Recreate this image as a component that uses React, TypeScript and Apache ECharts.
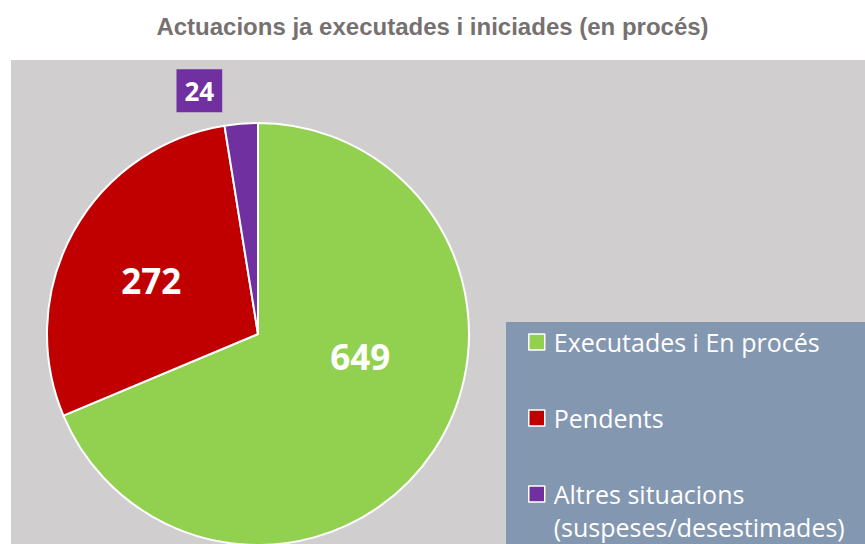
import React, { useEffect, useRef } from "react";
import * as echarts from "echarts";

const categories = ["Executades i En procés", "Pendents", "Altres situacions\n(suspeses/desestimades)"];
const values = [649, 272, 24];
const colors = ["#92d050", "#c00000", "#7030a0"];
const titleText = "Actuacions ja executades i iniciades (en procés)";

export default function App() {
  const ref = useRef<HTMLDivElement>(null);
  useEffect(() => {
    document.body.style.margin = "0";
    const chart = echarts.init(ref.current!, null, { renderer: "svg" });
    const labelFont = "'Open Sans', 'Noto Sans', sans-serif";
    const data = categories.map((name, i) => {
      const item: any = { name, value: values[i], itemStyle: { color: colors[i] } };
      if (i === 0) item.label = { offset: [12, -38] };
      if (i === 1) item.label = { offset: [-12, -1] };
      if (i === 2)
        item.label = {
          offset: [-50, -135],
          backgroundColor: "#7030a0",
          padding: [4, 8, 4, 8],
          fontSize: 26,
          lineHeight: 35,
        };
      return item;
    });
    const legendBase = (name: string, top: number, formatter?: any) => ({
      show: true,
      orient: "vertical",
      left: 528,
      top,
      padding: 0,
      itemWidth: 16,
      itemHeight: 16,
      icon: "rect",
      selectedMode: false,
      itemStyle: { borderColor: "#ffffff", borderWidth: 1.5 },
      data: [name],
      formatter,
      textStyle: {
        color: "#ffffff",
        fontSize: 25,
        lineHeight: 33,
        fontFamily: labelFont,
        padding: [0, 0, 0, 4],
      },
    });
    chart.setOption({
      animation: false,
      backgroundColor: "#ffffff",
      title: {
        text: titleText,
        left: "center",
        top: 9,
        textStyle: {
          color: "#767171",
          fontSize: 24,
          fontWeight: "bold",
          fontFamily: "'Liberation Sans', Arial, sans-serif",
        },
      },
      graphic: [
        { type: "rect", z: -10, silent: true, shape: { x: 11, y: 60, width: 860, height: 490 }, style: { fill: "#d0cece" } },
        { type: "rect", z: -5, silent: true, shape: { x: 506, y: 322, width: 365, height: 230 }, style: { fill: "#8497b0" } },
      ],
      legend: [
        legendBase(categories[0], 325.5),
        legendBase(categories[1], 401.5),
        legendBase(categories[2], 444.5, (n: string) => " \n" + n),
      ],
      series: [
        {
          type: "pie",
          center: [258, 334],
          radius: 211,
          startAngle: 90,
          clockwise: true,
          avoidLabelOverlap: false,
          itemStyle: { borderColor: "#ffffff", borderWidth: 2 },
          label: {
            show: true,
            position: "inside",
            formatter: "{c}",
            color: "#ffffff",
            fontSize: 35,
            fontWeight: "bold",
            fontFamily: labelFont,
          },
          labelLine: { show: false },
          emphasis: { disabled: true },
          data,
        },
      ],
    });
    return () => chart.dispose();
  }, []);
  return <div ref={ref} style={{ width: 865, height: 544 }} />;
}
